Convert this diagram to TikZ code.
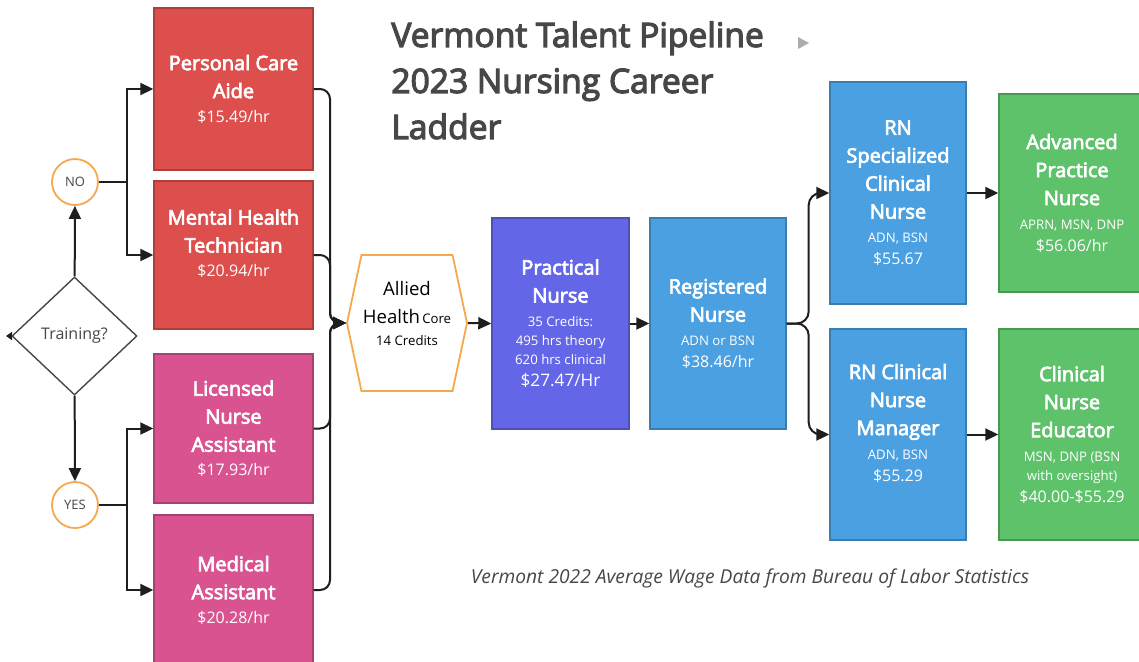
\documentclass[tikz,border=0pt]{standalone}
\usepackage{fontspec}
\setmainfont{Open Sans}
\newfontfamily\semifont{Open Sans}[FakeBold=3.5]
\usetikzlibrary{arrows.meta,shapes.geometric,shapes.symbols}

\definecolor{careRed}{HTML}{DC4F4D}
\definecolor{aidPink}{HTML}{D95390}
\definecolor{lpnBlue}{HTML}{6366E7}
\definecolor{rnBlue}{HTML}{4AA0E1}
\definecolor{advGreen}{HTML}{5DC26A}
\definecolor{pathOrange}{HTML}{F6A84D}
\definecolor{inkGray}{HTML}{474747}
\definecolor{lineBlack}{HTML}{1E1E1E}

\newcommand{\boxhead}{\semifont\fontsize{10}{14}\selectfont}
\newcommand{\wage}{\normalfont\fontsize{8}{9.5}\selectfont}
\newcommand{\detail}{\normalfont\fontsize{6.6}{8}\selectfont}

\begin{document}
\begin{tikzpicture}[x=0.5pt,y=-0.5pt,
  box/.style={rectangle, draw=#1!78!black, fill=#1, line width=0.7pt,
    text=white, align=center, font=\boxhead, inner sep=1pt},
  pick/.style={circle, draw=pathOrange, fill=white, line width=0.9pt,
    minimum size=23pt, inner sep=0pt, text=inkGray,
    font=\fontsize{6.5}{8}\selectfont},
  arr/.style={draw=lineBlack, line width=1pt,
    -{Triangle[length=6.5pt,width=6pt]}}]
\clip (0,0) rectangle (1139,661);
\fill[white] (0,0) rectangle (1139,661);

% title and source
\node[anchor=north west, align=left, text=inkGray, inner sep=0pt,
  font=\semifont\fontsize{16.8}{23}\selectfont] (title) at (391,21)
  {Vermont Talent Pipeline\\2023 Nursing Career\\Ladder};
\fill[gray!65] (798,37) -- (809,43) -- (798,49) -- cycle;
\node[text=inkGray, font=\fontsize{9.6}{11}\selectfont\itshape] (source)
  at (750,578) {Vermont 2022 Average Wage Data from Bureau of Labor Statistics};

% decision
\node[diamond, draw=inkGray, line width=0.7pt, fill=white, inner sep=0pt,
  minimum width=62.5pt, minimum height=59pt, text=inkGray,
  font=\fontsize{8}{10}\selectfont] (train) at (74.5,336) {Training?};
\node[pick] (no) at (75,182) {NO};
\node[pick] (yes) at (75,505) {YES};
\coordinate (away) at (6,336);

% entry jobs
\node[box=careRed, minimum width=79.5pt, minimum height=81pt] (pca)
  at (233.5,89) {Personal Care\\Aide\\[-2pt]{\wage \$15.49/hr}};
\node[box=careRed, minimum width=79.5pt, minimum height=74pt] (mht)
  at (233.5,255) {Mental Health\\Technician\\[-2pt]{\wage \$20.94/hr}\\[-2pt]\mbox{}};
\node[box=aidPink, minimum width=79.5pt, minimum height=74.5pt] (lna)
  at (233.5,428.5) {Licensed\\Nurse\\Assistant\\[-2pt]{\wage \$17.93/hr}};
\node[box=aidPink, minimum width=79.5pt, minimum height=75pt] (ma)
  at (233.5,590) {Medical\\Assistant\\[-2pt]{\wage \$20.28/hr}};

% core and nursing ladder
\node[signal, signal to=west and east, signal pointer angle=156,
  draw=pathOrange, fill=white, line width=0.9pt, inner sep=0pt,
  minimum width=60pt, minimum height=68pt, align=center,
  font=\fontsize{9.3}{14}\selectfont] (ahc) at (407,323)
  {Allied\\Health{\fontsize{6.6}{8}\selectfont\,Core}\\[-3pt]{\detail 14 Credits}\\[-4pt]\mbox{}};
\node[box=lpnBlue, minimum width=68.5pt, minimum height=105.5pt] (pn)
  at (560.5,323.5) {Practical\\Nurse\\[-2pt]{\detail 35 Credits:}\\[-4.5pt]%
  {\detail 495 hrs theory}\\[-4.5pt]{\detail 620 hrs clinical}\\[-3pt]%
  {\wage\fontsize{8.6}{10}\selectfont \$27.47/Hr}};
\node[box=rnBlue, minimum width=68pt, minimum height=105.5pt] (rn)
  at (718,323.5) {Registered\\Nurse\\[-2pt]{\detail ADN or BSN}\\[-3pt]%
  {\wage \$38.46/hr}};
\node[box=rnBlue, minimum width=68pt, minimum height=111pt] (rnsc)
  at (898,193) {RN\\Specialized\\Clinical\\Nurse\\[-2pt]{\detail ADN, BSN}\\[-3pt]%
  {\wage \$55.67}};
\node[box=rnBlue, minimum width=68pt, minimum height=105.5pt] (cnm)
  at (898,434.5) {RN Clinical\\Nurse\\Manager\\[-2pt]{\detail ADN, BSN}\\[-3pt]%
  {\wage \$55.29}\\[-2pt]\mbox{}};
\node[box=advGreen, minimum width=73pt, minimum height=99pt] (apn)
  at (1072,193) {Advanced\\Practice\\Nurse\\[-2pt]{\detail APRN, MSN, DNP}\\[-3pt]%
  {\wage \$56.06/hr}};
\node[box=advGreen, minimum width=73pt, minimum height=105.5pt] (cne)
  at (1072,434.5) {Clinical\\Nurse\\Educator\\[-2pt]{\detail MSN, DNP (BSN}\\[-4.5pt]%
  {\detail with oversight)}\\[-3pt]{\wage \$40.00-\$55.29}};

% connectors
\draw[arr] (train) -- (no);
\draw[arr] (train) -- (yes);
\draw[draw=lineBlack, line width=0.7pt, -{Triangle[length=3pt,width=4pt]}]
  (train.west) -- (away);
\draw[arr] (no.east) -- ++(28,0) |- (pca.west);
\draw[arr] (no.east) -- ++(28,0) |- (mht.west);
\draw[arr] (yes.east) -- ++(28,0) |- (lna.west);
\draw[arr] (yes.east) -- ++(28,0) |- (ma.west);
\coordinate (join) at (330,323);
\foreach \b in {pca,mht,lna,ma}
  \draw[arr, rounded corners=5pt] (\b.east) -| (join) -- (ahc.west);
\draw[arr] (ahc.east) -- (pn.west);
\draw[arr] (pn.east) -- (rn.west);
\draw[arr, rounded corners=6pt] (rn.east) -- ++(22,0) |- (rnsc.west);
\draw[arr, rounded corners=6pt] (rn.east) -- ++(22,0) |- (cnm.west);
\draw[arr] (rnsc.east) -- (apn.west);
\draw[arr] (cnm.east) -- (cne.west);
\end{tikzpicture}
\end{document}
